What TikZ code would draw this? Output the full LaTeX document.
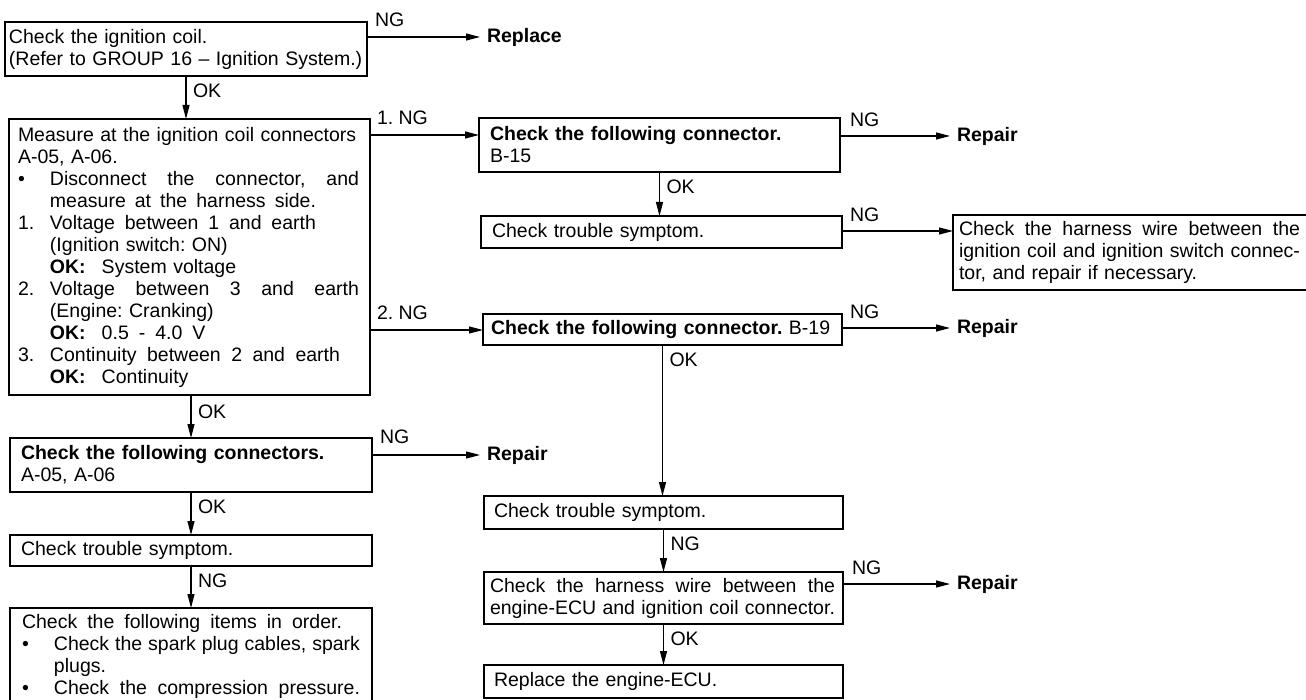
\documentclass[tikz,border=0pt]{standalone}
\usepackage{fontspec}
\setmainfont{Liberation Sans}
\usetikzlibrary{arrows.meta,calc}
\frenchspacing
\newcommand\hg[1]{\makebox[32pt][l]{#1}}
\newcommand\jl[2]{\leavevmode\hbox to #1{\spaceskip=0.278em plus 1fil minus 0.1em\relax #2}}
\begin{document}
\begin{tikzpicture}[x=1pt,y=-1pt,
  every node/.style={font=\fontsize{19.5pt}{22pt}\selectfont, outer sep=0pt},
  box/.style={draw, line width=1.2pt, inner ysep=0pt, align=left},
  arr/.style={-{Triangle[length=14pt,width=7pt]}, line width=1.2pt},
  res/.style={anchor=west, inner xsep=7pt, inner ysep=0pt, font=\fontsize{19.5pt}{22pt}\selectfont\bfseries},
  lab/.style={inner sep=0pt},
]
\useasboundingbox (0,0) rectangle (1306,700);
\clip (0,0) rectangle (1306,700);

% boxes
\node[box, minimum width=362pt, minimum height=54pt, text width=354pt, inner xsep=4pt] (b1) at (186,49)
 {\mbox{Check the ignition coil.}\\ \mbox{(Refer to GROUP 16 -- Ignition System.)}};
\node[box, minimum width=361pt, minimum height=276pt, text width=343pt, inner xsep=9pt] (b2) at (189.5,257)
 {\mbox{Measure at the ignition coil connectors}\\
  A-05, A-06.\\
  \hg{\textbullet}\jl{309pt}{Disconnect the connector, and}\\
  \hg{}\jl{266pt}{measure at the harness side.}\\
  \hg{1.}\jl{266pt}{Voltage between 1 and earth}\\
  \hg{}(Ignition switch: ON)\\
  \hg{}\textbf{OK:}\hspace{16pt}System voltage\\
  \hg{2.}\jl{309pt}{Voltage between 3 and earth}\\
  \hg{}(Engine: Cranking)\\
  \hg{}\textbf{OK:}\hspace{16pt}0.5\hspace{10pt}-\hspace{10pt}4.0\hspace{10pt}V\\
  \hg{3.}\jl{290pt}{Continuity between 2 and earth}\\
  \hg{}\textbf{OK:}\hspace{16pt}Continuity};
\node[box, minimum width=361pt, minimum height=54pt, text width=339pt, inner xsep=11pt] (b3) at (659.5,145)
 {\mbox{\textbf{Check the following connector.}}\\ B-15};
\node[box, minimum width=361pt, minimum height=32pt, text width=339pt, inner xsep=11pt] (b4) at (661.5,232)
 {Check trouble symptom.};
\node[box, minimum width=359pt, minimum height=75pt, text width=347pt, inner xsep=6pt] (b5) at (1132.5,252.5)
 {\jl{341pt}{Check the harness wire between the}\\
  \jl{341pt}{ignition coil and ignition switch connec-}\\
  tor, and repair if necessary.};
\node[box, minimum width=359pt, minimum height=31pt, text width=343pt, inner xsep=8pt] (b6) at (662.5,329.5)
 {\mbox{\textbf{Check the following connector.} B-19}};
\node[box, minimum width=362pt, minimum height=54pt, text width=340pt, inner xsep=11pt] (b7) at (191,465)
 {\mbox{\textbf{Check the following connectors.}}\\ A-05, A-06};
\node[box, minimum width=362pt, minimum height=31pt, text width=340pt, inner xsep=11pt] (b8) at (191,550.5)
 {Check trouble symptom.};
\node[box, minimum width=362pt, minimum height=97pt, text width=338pt, inner xsep=12pt] (b9) at (191,656.5)
 {\jl{320pt}{Check the following items in order.}\\
  \hg{\textbullet}\jl{306pt}{Check the spark plug cables, spark}\\
  \hg{}plugs.\\
  \hg{\textbullet}\jl{306pt}{Check the compression pressure.}};
\node[box, minimum width=359pt, minimum height=33pt, text width=339pt, inner xsep=10pt] (b10) at (663.5,512.5)
 {Check trouble symptom.};
\node[box, minimum width=359pt, minimum height=52pt, text width=347pt, inner xsep=6pt] (b11) at (663.5,598)
 {\jl{345pt}{Check the harness wire between the}\\
  \jl{345pt}{engine-ECU and ignition coil connector.}};
\node[box, minimum width=359pt, minimum height=33pt, text width=339pt, inner xsep=10pt] (b12) at (663.5,681.5)
 {Replace the engine-ECU.};

% results
\node[res] (rep0) at (480,37) {Replace};
\node[res] (rep1) at (950,136) {Repair};
\node[res] (rep2) at (950,328) {Repair};
\node[res] (rep3) at (480,455) {Repair};
\node[res] (rep4) at (950,584) {Repair};

% horizontal connectors
\coordinate (s0) at (b1.east |- rep0.west);
\coordinate (s1) at (b2.east |- 0,135);
\coordinate (s2) at (b2.east |- 0,330);
\coordinate (s3) at (b3.east |- rep1.west);
\coordinate (s4) at (b4.east |- 0,231);
\coordinate (s5) at (b6.east |- rep2.west);
\coordinate (s6) at (b7.east |- rep3.west);
\coordinate (s7) at (b11.east |- rep4.west);
\draw[arr] (s0) -- (rep0.west);
\draw[arr] (s1) -- (b3.west |- s1);
\draw[arr] (s2) -- (b6.west |- s2);
\draw[arr] (s3) -- (rep1.west);
\draw[arr] (s4) -- (b5.west |- s4);
\draw[arr] (s5) -- (rep2.west);
\draw[arr] (s6) -- (rep3.west);
\draw[arr] (s7) -- (rep4.west);
\node[lab, anchor=south west] (ng0) at ($(s0)+(8,-10)$) {NG};
\node[lab, anchor=south west] (ng1) at ($(s1)+(7,-10)$) {1.\ NG};
\node[lab, anchor=south west] (ng2) at ($(s2)+(7,-10)$) {2.\ NG};
\node[lab, anchor=south west] (ng3) at ($(s3)+(10,-9)$) {NG};
\node[lab, anchor=south west] (ng4) at ($(s4)+(8,-9)$) {NG};
\node[lab, anchor=south west] (ng5) at ($(s5)+(8,-9)$) {NG};
\node[lab, anchor=south west] (ng6) at ($(s6)+(8,-11)$) {NG};
\node[lab, anchor=south west] (ng7) at ($(s7)+(9,-9)$) {NG};

% vertical connectors
\draw[arr] (b1.south) -- (b1.south |- b2.north);
\draw[arr] (b7.north |- b2.south) -- (b7.north);
\draw[arr] (b7.south) -- (b8.north);
\draw[arr] (b8.south) -- (b9.north);
\draw[arr] (b3.south) -- (b3.south |- b4.north);
\draw[arr] (b6.south) -- (b6.south |- b10.north);
\draw[arr] (b10.south) -- (b11.north);
\draw[arr] (b11.south) -- (b12.north);
\node[lab, anchor=north west] (ok0) at ($(b1.south)+(7,8)$) {OK};
\node[lab, anchor=north west] (ok1) at ($(b7.north |- b2.south)+(7,10)$) {OK};
\node[lab, anchor=north west] (ok2) at ($(b7.south)+(7,8)$) {OK};
\node[lab, anchor=north west] (ng8) at ($(b8.south)+(7,8)$) {NG};
\node[lab, anchor=north west] (ok3) at ($(b3.south)+(7,8)$) {OK};
\node[lab, anchor=north west] (ok4) at ($(b6.south)+(7,8)$) {OK};
\node[lab, anchor=north west] (ng9) at ($(b10.south)+(7,8)$) {NG};
\node[lab, anchor=north west] (ok5) at ($(b11.south)+(7,8)$) {OK};
\end{tikzpicture}
\end{document}
